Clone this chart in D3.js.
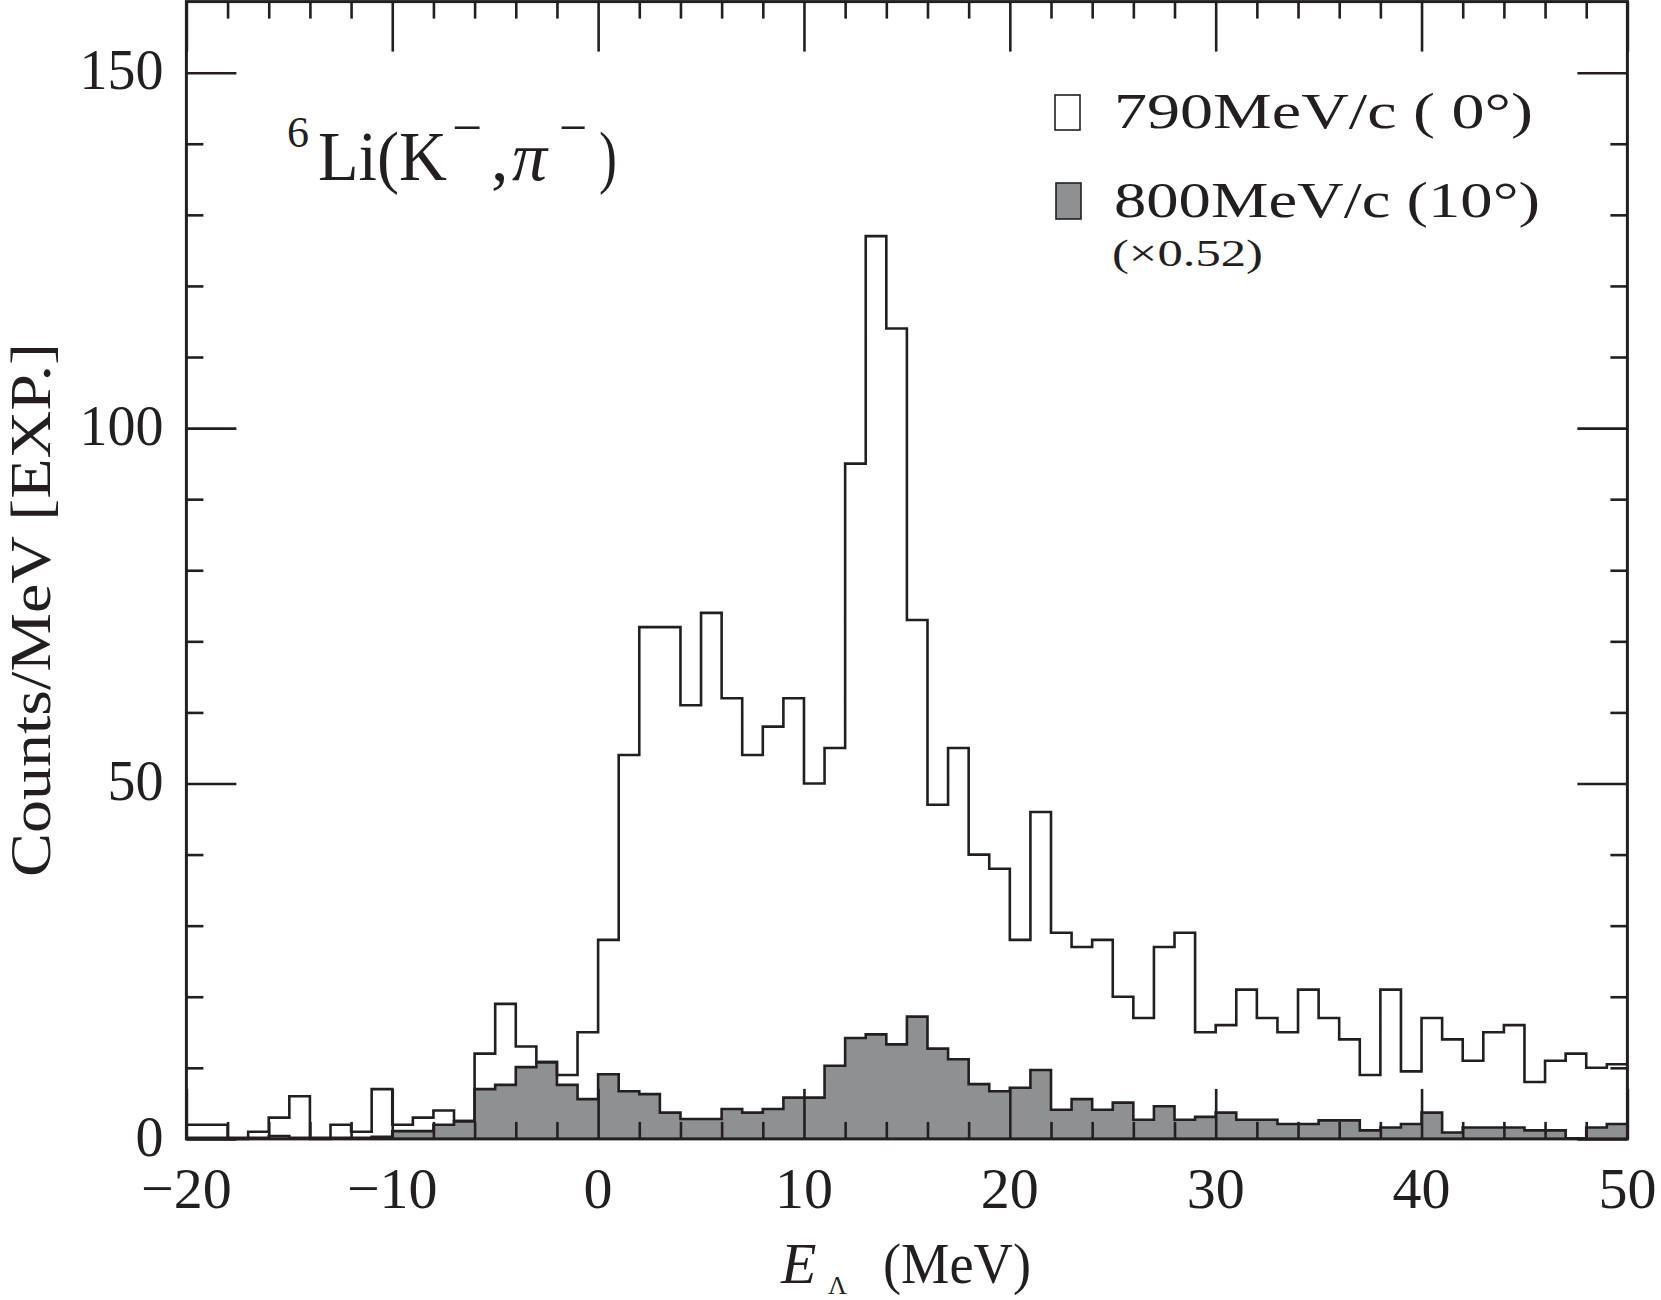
<!DOCTYPE html>
<html>
<head>
<meta charset="utf-8">
<script src="https://cdn.jsdelivr.net/npm/d3@7"></script>
<style>
  html, body { margin: 0; padding: 0; background: #fff; }
  svg { display: block; }
  text { font-family: "Liberation Serif", "DejaVu Serif", serif; fill: #231f20; }
</style>
</head>
<body>
<svg id="chart" width="1661" height="1300"></svg>
<script>
// ---------- data ----------
// lower edges of the 1 MeV bins (E_Lambda, MeV)
const energyBins = [-20,-19,-18,-17,-16,-15,-14,-13,-12,-11,-10,-9,-8,-7,-6,-5,-4,-3,-2,-1,
  0,1,2,3,4,5,6,7,8,9,10,11,12,13,14,15,16,17,18,19,20,21,22,23,24,25,26,27,28,29,
  30,31,32,33,34,35,36,37,38,39,40,41,42,43,44,45,46,47,48,49];
const binUpperEdge = 50;

// 790 MeV/c (0 deg) — open histogram
const counts790 = [2,2,0,1,3,6,0,2,1,7,2,3,4,2.5,12,19,13,10.8,9,15,
  28,54,72,72,61,74,62,54,58,62,50,55,95,127,114,73,47,55,40,38,
  28,46,29,27,28,20,17,27,29,15,16,21,17,15,21,17,14,9,21,9.5,
  17,14,11,15,16,8,11,12,10,10.5];

// 800 MeV/c (10 deg) x0.52 — shaded histogram
const counts800 = [0.15,0.15,0.15,0.15,0.4,0.15,0.15,0.15,0.15,0.3,1.1,1.1,2.0,2.5,7.0,7.6,10.1,10.8,7.6,5.6,
  9.1,6.7,6.3,3.7,2.8,2.8,4.2,3.7,4.2,5.8,5.8,10.3,14.2,14.7,13.3,17.2,12.7,11.2,7.7,6.7,
  7.2,9.7,4.1,5.6,4.1,5.1,2.7,4.6,2.7,3.1,3.7,2.7,2.7,2.1,2.1,2.6,2.6,1.2,1.6,2.1,
  3.7,0.9,1.6,1.6,1.6,1.2,1.2,0.1,1.6,2.1];

const xDomain = [-20, 50];
const yDomain = [0, 160];
const xMajorTicks = [-20,-10,0,10,20,30,40,50];
const xMinorTicks = [-18,-16,-14,-12,-8,-6,-4,-2,2,4,6,8,12,14,16,18,22,24,26,28,32,34,36,38,42,44,46,48];
const yMajorTicks = [0,50,100,150];
const yMinorTicks = [10,20,30,40,60,70,80,90,110,120,130,140];

const legendLabels = ["790MeV/c ( 0°)", "800MeV/c (10°)"];
const legendNote = "(×0.52)";
const yLabel = "Counts/MeV [EXP.]";

// ---------- drawing ----------
(function () {
const ink = "#231f20";
const grayFill = "#8f9092";
const svg = d3.select("#chart");

const pLeft = 186.4, pRight = 1627.4, pTop = 1.6, pBottom = 1138.9;
const x = d3.scaleLinear().domain(xDomain).range([pLeft, pRight]);
const y = d3.scaleLinear().domain(yDomain).range([pBottom, pTop]);

function stepPoints(vals) {
  const pts = energyBins.map((e, i) => [e, vals[i]]);
  pts.push([binUpperEdge, vals[vals.length - 1]]);
  return pts;
}

const area = d3.area().curve(d3.curveStepAfter)
  .x(d => x(d[0])).y0(y(0)).y1(d => y(d[1]));
const line = d3.line().curve(d3.curveStepAfter)
  .x(d => x(d[0])).y(d => y(d[1]));

// shaded histogram
svg.append("path").datum(stepPoints(counts800))
  .attr("d", area).attr("fill", grayFill).attr("stroke", "none");
svg.append("path").datum(stepPoints(counts800))
  .attr("d", line).attr("fill", "none").attr("stroke", ink)
  .attr("stroke-width", 2.6).attr("stroke-linejoin", "miter");

// open histogram
svg.append("path").datum(stepPoints(counts790))
  .attr("d", line).attr("fill", "none").attr("stroke", ink)
  .attr("stroke-width", 2.6).attr("stroke-linejoin", "miter");

// axes (ticks inward)
function styleAxis(g) {
  g.select(".domain").remove();
  g.selectAll(".tick line").attr("stroke", ink).attr("stroke-width", 2.6);
  g.selectAll("text").remove();
}
const majorLen = 50, minorLen = 17;
svg.append("g").attr("transform", `translate(0,${pBottom})`)
  .call(d3.axisBottom(x).tickValues(xMajorTicks).tickSize(-majorLen)).call(styleAxis);
svg.append("g").attr("transform", `translate(0,${pBottom})`)
  .call(d3.axisBottom(x).tickValues(xMinorTicks).tickSize(-minorLen)).call(styleAxis);
svg.append("g").attr("transform", `translate(0,${pTop})`)
  .call(d3.axisTop(x).tickValues(xMajorTicks).tickSize(-majorLen)).call(styleAxis);
svg.append("g").attr("transform", `translate(0,${pTop})`)
  .call(d3.axisTop(x).tickValues(xMinorTicks).tickSize(-minorLen)).call(styleAxis);
svg.append("g").attr("transform", `translate(${pLeft},0)`)
  .call(d3.axisLeft(y).tickValues(yMajorTicks).tickSize(-majorLen)).call(styleAxis);
svg.append("g").attr("transform", `translate(${pLeft},0)`)
  .call(d3.axisLeft(y).tickValues(yMinorTicks).tickSize(-minorLen)).call(styleAxis);
svg.append("g").attr("transform", `translate(${pRight},0)`)
  .call(d3.axisRight(y).tickValues(yMajorTicks).tickSize(-majorLen)).call(styleAxis);
svg.append("g").attr("transform", `translate(${pRight},0)`)
  .call(d3.axisRight(y).tickValues(yMinorTicks).tickSize(-minorLen)).call(styleAxis);

// frame
svg.append("rect").attr("x", pLeft).attr("y", pTop)
  .attr("width", pRight - pLeft).attr("height", pBottom - pTop)
  .attr("fill", "none").attr("stroke", ink).attr("stroke-width", 3);

// tick labels
const fmt = d3.format("d");
svg.append("g").selectAll("text").data(xMajorTicks).join("text")
  .attr("x", d => x(d)).attr("y", pBottom + 69)
  .attr("text-anchor", "middle").attr("font-size", 58)
  .text(d => fmt(d));
svg.append("g").selectAll("text").data(yMajorTicks).join("text")
  .attr("x", pLeft - 23).attr("y", d => y(d)).attr("dy", "0.30em")
  .attr("text-anchor", "end").attr("font-size", 56)
  .text(d => fmt(d));

// axis titles
const xt = svg.append("text").attr("y", 1283).attr("font-size", 58);
xt.append("tspan").attr("x", 781).attr("font-style", "italic").text("E");
xt.append("tspan").attr("x", 828).attr("dy", 11).attr("font-size", 26).text("Λ");
xt.append("tspan").attr("x", 883).attr("dy", -11).attr("textLength", 148)
  .attr("lengthAdjust", "spacingAndGlyphs").text("(MeV)");

svg.append("text")
  .attr("transform", "translate(50,610) rotate(-90)")
  .attr("text-anchor", "middle").attr("font-size", 56)
  .attr("textLength", 534).attr("lengthAdjust", "spacingAndGlyphs")
  .text(yLabel);

// reaction label 6Li(K-,pi-)
function piece(txt, px, py, size, len, italic) {
  const t = svg.append("text").attr("x", px).attr("y", py).attr("font-size", size).text(txt);
  if (len) t.attr("textLength", len).attr("lengthAdjust", "spacingAndGlyphs");
  if (italic) t.attr("font-style", "italic");
  return t;
}
piece("6", 287, 147, 44, 22);
piece("Li(K", 318, 180, 70, 129);
piece("−", 452, 145, 52, 30);
piece(",", 491, 180, 70, 0);
piece("π", 512, 180, 70, 35, true);
piece("−", 559, 145, 52, 28);
piece(")", 599, 180, 70, 18);

// legend
svg.append("rect").attr("x", 1055).attr("y", 95).attr("width", 25).attr("height", 35)
  .attr("fill", "#fff").attr("stroke", ink).attr("stroke-width", 1.6);
svg.append("rect").attr("x", 1056).attr("y", 183).attr("width", 25).attr("height", 36)
  .attr("fill", grayFill).attr("stroke", ink).attr("stroke-width", 1.6);
svg.append("text").attr("x", 1114).attr("y", 128).attr("font-size", 50)
  .attr("textLength", 419).attr("lengthAdjust", "spacingAndGlyphs").text(legendLabels[0]);
svg.append("text").attr("x", 1114).attr("y", 217).attr("font-size", 50)
  .attr("textLength", 426).attr("lengthAdjust", "spacingAndGlyphs").text(legendLabels[1]);
svg.append("text").attr("x", 1112).attr("y", 266).attr("font-size", 38)
  .attr("textLength", 151).attr("lengthAdjust", "spacingAndGlyphs").text(legendNote);
})();
</script>
</body>
</html>
